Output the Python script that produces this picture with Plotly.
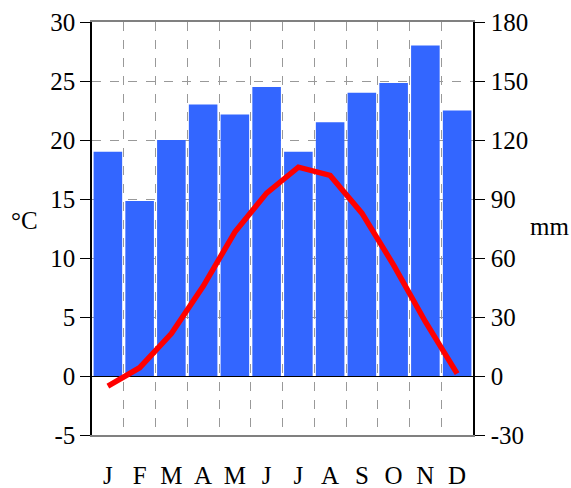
import plotly.graph_objects as go

months = ["J", "F", "M", "A", "M", "J", "J", "A", "S", "O", "N", "D"]
precip_mm = [114, 89, 120, 138, 133, 147, 114, 129, 144, 149, 168, 135]
temp_c = [-0.85, 0.7, 3.6, 7.6, 12.2, 15.5, 17.7, 17.0, 13.8, 9.4, 4.6, 0.2]
temp_ticks = [-5, 0, 5, 10, 15, 20, 25, 30]
mm_ticks = [-30, 0, 30, 60, 90, 120, 150, 180]

xpos = [i + 0.5 for i in range(len(months))]
FONT = "Liberation Serif"

fig = go.Figure()
fig.add_trace(go.Bar(x=xpos, y=precip_mm, yaxis="y", marker=dict(color="#3366FF", line=dict(width=0)),
                     width=0.9, showlegend=False))
fig.add_trace(go.Scatter(x=xpos, y=temp_c, yaxis="y2", mode="lines",
                         line=dict(color="#FF0000", width=5.5), showlegend=False))

fig.update_layout(
    width=571, height=488,
    margin=dict(l=92, r=98, t=22, b=53),
    paper_bgcolor="white", plot_bgcolor="white",
    font=dict(family=FONT, size=25, color="black"),
    xaxis=dict(range=[0, 12], tickvals=xpos, ticktext=months, showgrid=False, automargin=False,
               ticks="", ticklabelstandoff=17, showline=True, mirror=True,
               linecolor="#808080", linewidth=1.5, zeroline=False,
               minor=dict(tickvals=list(range(1, 12)), showgrid=True,
                          gridcolor="#999999", griddash="dash", gridwidth=1, ticklen=0)),
    yaxis=dict(range=[-30, 180], tickvals=mm_ticks, ticktext=[str(v) for v in mm_ticks],
               side="right", automargin=False,
               showgrid=True, gridcolor="#999999", griddash="dash",
               zeroline=True, zerolinecolor="black", zerolinewidth=1,
               showline=True, linecolor="black", linewidth=1.5,
               ticks="outside", ticklen=10, tickcolor="black", ticklabelstandoff=1),
    yaxis2=dict(range=[-5, 30], tickvals=temp_ticks, ticktext=[str(v) for v in temp_ticks],
                overlaying="y", side="left", showgrid=False, automargin=False,
                zeroline=False, showline=True, linecolor="black", linewidth=1.5,
                ticks="outside", ticklen=10, tickcolor="black", ticklabelstandoff=0),
    annotations=[
        dict(text="°C", xref="paper", yref="paper", x=-0.176, y=0.52, xanchor="center",
             yanchor="middle", showarrow=False, font=dict(family=FONT, size=25)),
        dict(text="mm", xref="paper", yref="paper", x=1.2, y=0.505, xanchor="center",
             yanchor="middle", showarrow=False, font=dict(family=FONT, size=25)),
    ],
)

fig.write_html(
    "out.html",
    config={"displayModeBar": False},
    post_script="document.body.style.margin='0';document.body.style.overflow='hidden';"
                "document.documentElement.style.overflow='hidden';",
)
